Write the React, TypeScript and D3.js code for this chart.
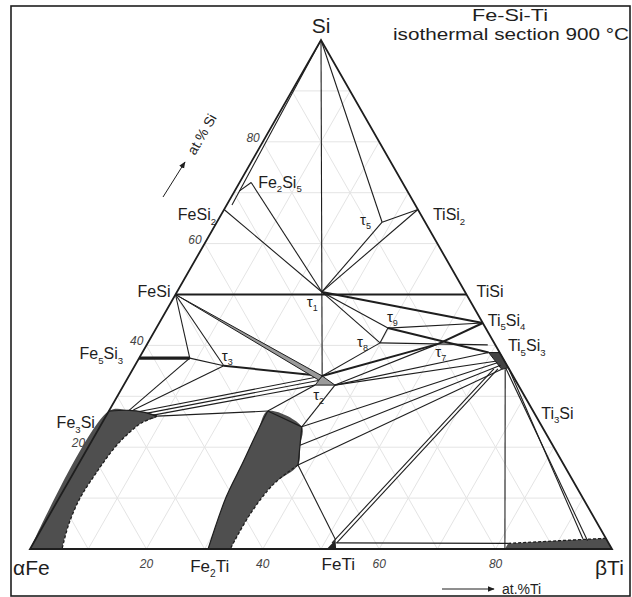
import * as d3 from "d3";
import React from "react";

type P = [number, number]; // [at.% Ti, at.% Si]

// corners and binary phases
const Si: P = [0, 100];
const FeSi2: P = [0, 66.7];
const FeSi2in: P = [0.9, 67.6];
const Fe2Si5: P = [2, 72];
const Fe2Si5end: P = [0.8, 70.3];
const FeSi: P = [0, 50];
const Fe5Si3: P = [0, 37.5];
const Fe5Si3ss: P = [8.7, 37.5];
const Fe3Si: P = [0, 27.1];
const TiSi2: P = [33.3, 66.7];
const TiSi: P = [50, 50];
const Ti5Si4: P = [55.6, 44.4];
const Ti5Si3: P = [62.5, 37.5];
const Ti3Si: P = [75, 25];
const FeTi: P = [51.6, 1.8];
const Fe2Ti: P = [32, 0];

// ternary compounds
const tau1: P = [24.9, 50.5];
const tau2: P = [33.2, 34];
const tau2L: P = [32.9, 32.2];
const tau2R: P = [36.3, 32.2];
const tau3: P = [15.3, 36];
const tau5: P = [28.4, 64.2];
const tau7: P = [50, 40.3];
const tau8: P = [39.9, 40.5];
const tau9: P = [39.8, 43.4];

// single phase regions
const alphaFeTop: P[] = [[0, 27.1], [3.4, 27.25], [6, 26.9], [8.8, 26.1]];
const alphaFeSolvus: P[] = [[8.8, 26.1], [6.8, 24.8], [5.6, 22.8], [4.6, 20], [3.9, 15], [3.6, 10], [4.2, 5], [5.5, 0]];
const fe2TiLeft: P[] = [[30.6, 0], [28.6, 10.2], [28.1, 16.7], [27.5, 23.4], [27.3, 27.1]];
const fe2TiRight: P[] = [[34.7, 24.0], [36.2, 20.4], [37.8, 16.5]];
const fe2TiSolvus: P[] = [[37.8, 16.5], [35.5, 12.8], [34.4, 6.9], [34.4, 0]];
const tau2Region: P[] = [tau2, tau2L, tau2R];
const ti5Si3Region: P[] = [[59.5, 38.6], [61.4, 38.6], [64.4, 35.6], [63.4, 35.3]];
const feTiRegion: P[] = [[51, 0], [52.6, 0], [51.6, 1.8]];
const betaTiSolvus: P[] = [[81.6, 1.1], [88, 1.5], [94.5, 1.9], [97.9, 2.1]];
const betaTiBase: P[] = [[100, 0], [81.6, 0]];

// tie lines
const thinTies: [P, P][] = [
  [Si, FeSi2in], [Fe2Si5, Fe2Si5end], [Fe2Si5, tau1], [FeSi2, tau1],
  [Si, tau5], [tau5, TiSi2], [tau5, tau1], [TiSi2, tau1],
  [Si, tau1], [tau1, tau2],
  [tau1, tau9], [tau1, tau8], [tau8, tau9], [tau9, Ti5Si4],
  [tau8, [58.6, 40.1]], [tau8, tau2], [tau2R, tau7],
  [tau2R, [59.5, 38.6]], [tau2R, [61.5, 36.9]],
  [[34.7, 24.0], [62, 36.6]], [[36.2, 20.4], [62.8, 36.1]], [[37.8, 16.5], [63.4, 35.3]],
  [[34.7, 24.0], tau2R], [[27.3, 27.1], tau2L],
  [[8.8, 26.1], [27.3, 27.1]],
  [[5.3, 27.0], tau2], [[6.8, 26.7], [33.0, 33.1]], [[8.0, 26.3], tau2L],
  [[4.1, 27.3], tau3], [[3.4, 27.25], Fe5Si3ss], [Fe5Si3ss, tau3],
  [FeSi, Fe5Si3ss], [FeSi, tau3],
  [[37.8, 16.5], FeTi],
  [[51.3, 1.2], [62.0, 35.4]], [[52.1, 1.2], [62.7, 35.4]],
  [[52, 1.2], [81.6, 1.1]],
  [[64, 35.3], [81.6, 0]],
  [[64.4, 35.6], [94, 2.0]], [[64.1, 35.4], [95, 1.6]],
];
const thickTies: [P, P][] = [
  [FeSi, TiSi], [tau1, Ti5Si4], [tau9, [59.5, 38.6]], [Ti5Si4, tau7],
  [tau7, tau2], [tau3, tau2],
];

const gridSteps = d3.range(10, 100, 10);
const siTicks = [20, 40, 60, 80];
const tiTicks = [20, 40, 60, 80];

const FONT = "'Liberation Sans', Arial, sans-serif";
const INK = "#1e1e1e";
const SHADE = "#4f4f4f";

function Label({ x, y, text, size, anchor = "start", italic = false, fill = INK }:
  { x: number; y: number; text: string; size: number; anchor?: string; italic?: boolean; fill?: string }) {
  const parts = text.split(/(_[0-9]+)/).filter(Boolean);
  const sub = size * 0.28;
  let inSub = false;
  return (
    <text x={x} y={y} fontSize={size} textAnchor={anchor} fontFamily={FONT}
      fontStyle={italic ? "italic" : "normal"} fill={fill}>
      {parts.map((p, i) => {
        if (p.startsWith("_")) {
          const dy = inSub ? 0 : sub;
          inSub = true;
          return <tspan key={i} dy={dy} fontSize={size * 0.6}>{p.slice(1)}</tspan>;
        }
        const dy = inSub ? -sub : 0;
        inSub = false;
        return <tspan key={i} dy={dy}>{p}</tspan>;
      })}
    </text>
  );
}

export default function App() {
  const W = 632, H = 597;
  const A = [30, 549], B = [612, 549], C = [321, 40];
  const xTi = d3.scaleLinear().domain([0, 100]).range([A[0], B[0]]);
  const ySi = d3.scaleLinear().domain([0, 100]).range([A[1], C[1]]);
  const shift = d3.scaleLinear().domain([0, 100]).range([0, C[0] - A[0]]);
  const proj = (p: P): [number, number] => [xTi(p[0]) + shift(p[1]), ySi(p[1])];
  const line = d3.line<P>().x((p) => proj(p)[0]).y((p) => proj(p)[1]);
  const smooth = d3.line<P>().x((p) => proj(p)[0]).y((p) => proj(p)[1]).curve(d3.curveCatmullRom.alpha(0.5));

  const alphaFeFill = smooth([[0, 0], ...alphaFeTop, ...alphaFeSolvus.slice(1)]) + "Z";
  const fe2TiFill = smooth([...fe2TiLeft, ...fe2TiRight, ...fe2TiSolvus.slice(1)]) + "Z";
  const betaFill = line([...betaTiBase, ...betaTiSolvus, [100, 0]]) + "Z";

  const labels: [string, P, number, number, string][] = [
    ["FeSi_2", FeSi2, -8, 11, "end"],
    ["Fe_2Si_5", Fe2Si5, 7, 5, "start"],
    ["FeSi", FeSi, -5, 2, "end"],
    ["Fe_5Si_3", Fe5Si3, -16, 1, "end"],
    ["Fe_3Si", Fe3Si, -14, 17, "end"],
    ["TiSi_2", TiSi2, 15, 11, "start"],
    ["TiSi", TiSi, 10, 2, "start"],
    ["Ti_5Si_4", Ti5Si4, 5, 3, "start"],
    ["Ti_5Si_3", Ti5Si3, 5, -7, "start"],
    ["Ti_3Si", Ti3Si, 2, -3, "start"],
    ["τ_1", tau1, -15, 15, "start"],
    ["τ_2", tau2, -9, 24, "start"],
    ["τ_3", tau3, -2, -5, "start"],
    ["τ_5", tau5, -22, 3, "start"],
    ["τ_7", tau7, -3, 13, "start"],
    ["τ_8", tau8, -23, 4, "start"],
    ["τ_9", tau9, -1, -6, "start"],
  ];

  const [sx, sy] = proj(Si);
  const [fx] = proj([0, 0]);
  const [tx] = proj([100, 0]);

  return (
    <svg width={W} height={H} style={{ position: "absolute", left: 0, top: 0, background: "#fff" }}>
      <defs>
        <marker id="arr" viewBox="0 0 10 10" refX="9" refY="5" markerWidth="7" markerHeight="7" orient="auto">
          <path d="M0,1 L10,5 L0,9 Z" fill={INK} />
        </marker>
      </defs>
      <rect x={11} y={6} width={619} height={590} fill="#fff" stroke={INK} strokeWidth={1.6} />

      {/* grid */}
      <g stroke="#e4e4e4" strokeWidth={1} fill="none">
        {gridSteps.map((k) => (
          <g key={k}>
            <path d={line([[0, k], [100 - k, k]])!} />
            <path d={line([[k, 0], [k, 100 - k]])!} />
            <path d={line([[100 - k, 0], [0, 100 - k]])!} />
          </g>
        ))}
      </g>

      {/* single-phase regions */}
      <path d={alphaFeFill} fill={SHADE} />
      <path d={fe2TiFill} fill={SHADE} />
      <path d={betaFill} fill={SHADE} />
      <path d={line(tau2Region)! + "Z"} fill="#9a9a9a" stroke={INK} strokeWidth={1} />
      <path d={line(ti5Si3Region)! + "Z"} fill="#444" stroke={INK} strokeWidth={1} />
      <path d={line(feTiRegion)! + "Z"} fill="#222" />

      <g fill="none" stroke={INK} strokeLinejoin="round">
        <path d={smooth(alphaFeSolvus)!} strokeWidth={1.3} strokeDasharray="3 2" />
        <path d={smooth(alphaFeTop)!} strokeWidth={1.2} />
        <path d={smooth(fe2TiLeft)!} strokeWidth={1.2} />
        <path d={line([fe2TiLeft[fe2TiLeft.length - 1], ...fe2TiRight])!} strokeWidth={1.2} />
        <path d={smooth(fe2TiSolvus)!} strokeWidth={1.3} strokeDasharray="3 2" />
        <path d={line(betaTiSolvus)!} strokeWidth={1.3} strokeDasharray="3 2" />
        {thinTies.map(([a, b], i) => (
          <path key={"t" + i} d={line([a, b])!} strokeWidth={1.1} />
        ))}
        {thickTies.map(([a, b], i) => (
          <path key={"k" + i} d={line([a, b])!} strokeWidth={2} />
        ))}
        <path d={line([Fe5Si3, Fe5Si3ss])!} strokeWidth={3.2} />
      </g>
      {/* FeSi - tau2 narrow two-phase field */}
      <path d={line([FeSi, tau2, [33.0, 33.2]])! + "Z"} fill="#9a9a9a" stroke={INK} strokeWidth={1} />

      {/* triangle */}
      <path d={line([[0, 0], [100, 0], Si])! + "Z"} fill="none" stroke={INK} strokeWidth={1.8} strokeLinejoin="miter" />

      {/* tick labels */}
      {siTicks.map((s) => {
        const [x, y] = proj([0, s]);
        return <text key={"s" + s} x={x - 3} y={y} fontSize={12} fontStyle="italic" textAnchor="end" fill="#444" fontFamily={FONT}>{s}</text>;
      })}
      {tiTicks.map((t) => {
        const [x] = proj([t, 0]);
        return <text key={"ti" + t} x={x} y={568} fontSize={12} fontStyle="italic" textAnchor="middle" fill="#444" fontFamily={FONT}>{t}</text>;
      })}

      {labels.map(([txt, p, dx, dy, anchor]) => {
        const [x, y] = proj(p);
        return <Label key={txt} x={x + dx} y={y + dy} text={txt} size={txt.startsWith("τ") ? 15 : 16} anchor={anchor} />;
      })}

      <Label x={sx} y={sy - 7} text="Si" size={21} anchor="middle" />
      <Label x={fx - 17} y={575} text="αFe" size={21} />
      <Label x={tx - 17} y={575} text="βTi" size={21} />
      <Label x={proj(FeTi)[0] - 14} y={570} text="FeTi" size={17} />
      <Label x={proj(Fe2Ti)[0] - 26} y={572} text="Fe_2Ti" size={17} />

      <text x={472} y={21} fontSize={17} fontFamily={FONT} fill={INK} textLength={76} lengthAdjust="spacingAndGlyphs">Fe-Si-Ti</text>
      <text x={393} y={40} fontSize={17} fontFamily={FONT} fill={INK} textLength={236} lengthAdjust="spacingAndGlyphs">isothermal section 900 °C</text>

      <line x1={163} y1={197} x2={185} y2={162} stroke={INK} strokeWidth={1} markerEnd="url(#arr)" />
      <text transform="translate(195,156) rotate(-60)" fontSize={14} fontFamily={FONT} fill={INK}>at.% Si</text>
      <line x1={442} y1={589} x2={494} y2={589} stroke={INK} strokeWidth={1} markerEnd="url(#arr)" />
      <text x={502} y={594} fontSize={14} fontFamily={FONT} fill={INK}>at.%Ti</text>
    </svg>
  );
}
